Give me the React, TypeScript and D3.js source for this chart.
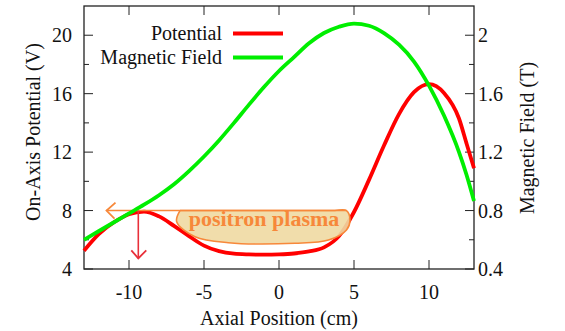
import React from "react";
import * as d3 from "d3";

// Axial positions (cm) at which both profiles are sampled
const positionCm = [-13, -12, -11, -10, -9, -8, -7, -6, -5, -4, -3, -2, -1, 0, 1, 2, 3, 4, 5, 6, 7, 8, 9, 10, 11, 12, 12.5, 13];
// On-axis potential (V)
const potentialV = [5.25, 6.4, 7.2, 7.75, 7.93, 7.6, 6.95, 6.25, 5.6, 5.22, 5.05, 5.0, 4.98, 5.0, 5.06, 5.2, 5.48, 6.25, 7.9, 10.1, 12.45, 14.6, 16.1, 16.65, 16.05, 14.3, 12.6, 10.9];
// Magnetic field (T)
const fieldT = [0.6, 0.66, 0.72, 0.78, 0.84, 0.905, 0.98, 1.07, 1.17, 1.28, 1.4, 1.525, 1.645, 1.755, 1.85, 1.945, 2.015, 2.058, 2.08, 2.065, 2.015, 1.935, 1.82, 1.655, 1.45, 1.2, 1.045, 0.865];

const xTicks = [-10, -5, 0, 5, 10];
const leftTicks = [4, 8, 12, 16, 20];
const leftMinor = [6, 10, 14, 18];
const rightTicks = [0.4, 0.8, 1.2, 1.6, 2];
const rightMinor = [0.6, 1.0, 1.4, 1.8];

// Trapped plasma outline (position cm, potential V)
const plasmaX = [-6.6, -5.5, 3.5, 4.5, 4.73, 4.5, 3.3, 1.07, -3.38, -5.6, -6.82, -6.6];
const plasmaV = [8, 8, 8, 8, 7.3, 6.67, 5.98, 5.76, 5.8, 6.21, 7.24, 8];
const plasmaLabel = "positron plasma";
const plasmaLabelPos = [-1.0, 6.97];
// Loading arrow along 8 V and the dump arrow down from the barrier
const loadArrow = { x0: 4.5, x1: -11.5, v: 8 };
const dumpArrow = { x: -9.38, v0: 8, v1: 4.73 };

const W = 565, H = 331;
const M = { left: 84, right: 474, top: 6, bottom: 269 };
const FONT = '"Liberation Serif", "Times New Roman", Times, serif';

export default function App() {
  const x = d3.scaleLinear().domain([-13, 13]).range([M.left, M.right]);
  const yL = d3.scaleLinear().domain([4, 22]).range([M.bottom, M.top]);
  const yR = d3.scaleLinear().domain([0.4, 2.2]).range([M.bottom, M.top]);

  const potLine = d3.line<number>().x((_, i) => x(positionCm[i])).y((d) => yL(d)).curve(d3.curveMonotoneX);
  const fieldLine = d3.line<number>().x((_, i) => x(positionCm[i])).y((d) => yR(d)).curve(d3.curveMonotoneX);
  const plasmaPath = d3
    .line<number>()
    .x((d) => x(d))
    .y((_, i) => yL(plasmaV[i]))
    .curve(d3.curveCatmullRom.alpha(0.5))(plasmaX) as string;

  const axisColor = "#222";
  const orange = "#f7883a";
  const major = 9, minor = 5;

  const ax0 = x(loadArrow.x0), ax1 = x(loadArrow.x1), ay = yL(loadArrow.v);
  const dx = x(dumpArrow.x), dy0 = yL(dumpArrow.v0), dy1 = yL(dumpArrow.v1);

  const txt = { fontFamily: FONT, fontSize: 20, fill: "#111" } as React.CSSProperties;

  return (
    <svg width={W} height={H} style={{ position: "absolute", left: 0, top: 0, background: "#fff", fontFamily: FONT }}>
      {/* frame */}
      <rect x={M.left} y={M.top} width={M.right - M.left} height={M.bottom - M.top} fill="none" stroke={axisColor} strokeWidth={1.3} />

      {/* x ticks (bottom and top) */}
      {xTicks.map((t) => (
        <g key={"x" + t}>
          <line x1={x(t)} x2={x(t)} y1={M.bottom} y2={M.bottom - major} stroke={axisColor} strokeWidth={1} />
          <line x1={x(t)} x2={x(t)} y1={M.top} y2={M.top + major} stroke={axisColor} strokeWidth={1} />
          <text x={x(t)} y={299} textAnchor="middle" style={txt}>{t}</text>
        </g>
      ))}

      {/* left axis ticks */}
      {leftTicks.map((t) => (
        <g key={"l" + t}>
          <line x1={M.left} x2={M.left + major} y1={yL(t)} y2={yL(t)} stroke={axisColor} strokeWidth={1} />
          <text x={72} y={yL(t)} dy="0.35em" textAnchor="end" style={txt}>{t}</text>
        </g>
      ))}
      {leftMinor.map((t) => (
        <line key={"lm" + t} x1={M.left} x2={M.left + minor} y1={yL(t)} y2={yL(t)} stroke={axisColor} strokeWidth={1} />
      ))}

      {/* right axis ticks */}
      {rightTicks.map((t) => (
        <g key={"r" + t}>
          <line x1={M.right} x2={M.right - major} y1={yR(t)} y2={yR(t)} stroke={axisColor} strokeWidth={1} />
          <text x={478} y={yR(t)} dy="0.35em" textAnchor="start" style={txt}>{String(t)}</text>
        </g>
      ))}
      {rightMinor.map((t) => (
        <line key={"rm" + t} x1={M.right} x2={M.right - minor} y1={yR(t)} y2={yR(t)} stroke={axisColor} strokeWidth={1} />
      ))}

      {/* axis titles */}
      <text x={(M.left + M.right) / 2} y={325} textAnchor="middle" style={txt}>Axial Position (cm)</text>
      <text transform={`translate(40,${132}) rotate(-90)`} textAnchor="middle" style={txt}>On-Axis Potential (V)</text>
      <text transform={`translate(534,${138}) rotate(-90)`} textAnchor="middle" style={txt}>Magnetic Field (T)</text>

      {/* potential profile */}
      <path d={potLine(potentialV) as string} fill="none" stroke="#ff0000" strokeWidth={3.8} />

      {/* plasma region */}
      <path d={plasmaPath} fill="#efd9a2" fillOpacity={0.9} stroke={orange} strokeWidth={1.6} />
      <text x={x(plasmaLabelPos[0])} y={yL(plasmaLabelPos[1])} textAnchor="middle"
        style={{ fontFamily: FONT, fontSize: 22, fontWeight: "bold", fill: orange }}>
        {plasmaLabel}
      </text>

      {/* loading arrow */}
      <line x1={ax0} x2={ax1} y1={ay} y2={ay} stroke={orange} strokeWidth={1.6} />
      <polyline points={`${ax1 + 9},${ay - 8} ${ax1},${ay} ${ax1 + 8},${ay + 8}`} fill="none" stroke={orange} strokeWidth={1.8} />

      {/* dump arrow */}
      <line x1={dx} x2={dx} y1={dy0} y2={dy1} stroke="#e8303a" strokeWidth={1.6} />
      <polyline points={`${dx - 7},${dy1 - 8} ${dx},${dy1} ${dx + 8},${dy1 - 8}`} fill="none" stroke="#e8303a" strokeWidth={1.8} />

      {/* magnetic field profile */}
      <path d={fieldLine(fieldT) as string} fill="none" stroke="#00ee00" strokeWidth={3.8} />

      {/* legend */}
      <text x={222} y={40} textAnchor="end" style={txt}>Potential</text>
      <line x1={233} x2={283} y1={33.5} y2={33.5} stroke="#ff0000" strokeWidth={3.8} />
      <text x={222} y={64} textAnchor="end" style={txt}>Magnetic Field</text>
      <line x1={233} x2={283} y1={57.5} y2={57.5} stroke="#00ee00" strokeWidth={3.8} />
    </svg>
  );
}
